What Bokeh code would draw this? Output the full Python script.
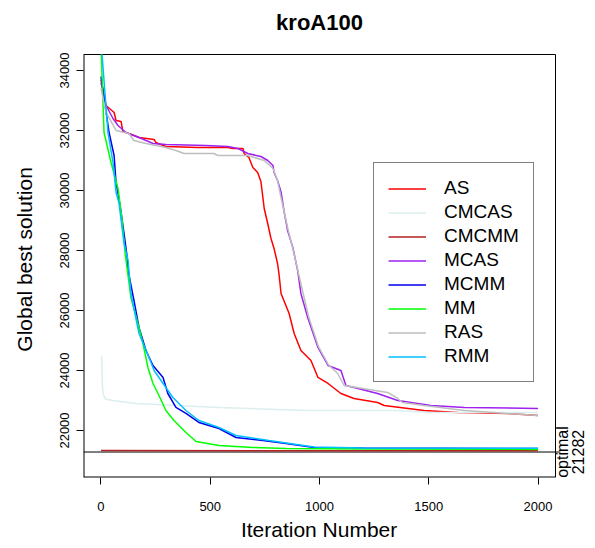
import math
from bokeh.plotting import figure
from bokeh.models import Range1d, FixedTicker, Legend, LegendItem
from bokeh.core.properties import value
from bokeh.embed import file_html
from bokeh.resources import INLINE

FONT = "Liberation Sans"

# ---- data ----
title_text = "kroA100"
x_label = "Iteration Number"
y_label = "Global best solution"
x_ticks = [0, 500, 1000, 1500, 2000]
y_ticks = [22000, 24000, 26000, 28000, 30000, 32000, 34000]
optimal = 21282

series_names = ["AS", "CMCAS", "CMCMM", "MCAS", "MCMM", "MM", "RAS", "RMM"]
series_colors = ["#FF0000", "#DCEEEE", "#B22222", "#A020F0", "#0000EE", "#00FF00", "#BEBEBE", "#00BFFF"]

as_x = [0, 14, 23, 60, 69, 92, 100, 128, 175, 243, 251, 297, 443, 580, 604, 650, 655, 677, 695, 717, 732,
        747, 763, 778, 792, 808, 815, 824, 861, 884, 915, 961, 993, 1039, 1098, 1158, 1266, 1296, 1478,
        1632, 1861, 2000]
as_y = [33700, 33167, 32833, 32600, 32333, 32300, 31967, 31900, 31767, 31700, 31600, 31467, 31433, 31433,
        31400, 31400, 31233, 31100, 30767, 30600, 30300, 29400, 28900, 28400, 28067, 27567, 27200, 26567,
        25900, 25233, 24667, 24333, 23767, 23567, 23233, 23067, 22933, 22833, 22667, 22600, 22567, 22500]

cmcas_x = [3, 6, 9, 20, 55, 160, 540, 946, 1358, 1497, 2000]
cmcas_y = [24500, 23600, 23233, 23050, 23000, 22900, 22767, 22667, 22667, 22600, 22600]

cmcmm_x = [0, 2000]
cmcmm_y = [21330, 21325]

mcas_x = [0, 23, 55, 78, 114, 174, 238, 297, 480, 580, 627, 672, 732, 763, 787, 792, 808, 824, 838, 854,
          878, 900, 915, 946, 993, 1039, 1098, 1121, 1176, 1266, 1358, 1510, 1663, 2000]
mcas_y = [33600, 32833, 32400, 32167, 31933, 31767, 31567, 31533, 31500, 31467, 31400, 31233, 31133,
          31000, 30833, 30600, 30333, 29950, 29300, 28667, 28100, 27333, 26567, 25767, 24767, 24167,
          24000, 23500, 23400, 23233, 23000, 22833, 22767, 22733]

mcmm_x = [0, 37, 60, 69, 82, 92, 105, 119, 124, 151, 174, 206, 238, 284, 306, 343, 389, 448, 540, 618,
          741, 847, 975, 1200, 2000]
mcmm_y = [33800, 31933, 31167, 30267, 29733, 29267, 28600, 27833, 27333, 26333, 25433, 24667, 24167,
          23767, 23233, 22767, 22567, 22267, 22067, 21767, 21667, 21567, 21433, 21420, 21400]

mm_x = [0, 14, 46, 78, 96, 105, 110, 137, 169, 192, 215, 238, 261, 297, 334, 389, 435, 540, 695, 847,
        1200, 2000]
mm_y = [34800, 31933, 30933, 30067, 29067, 28333, 27933, 26433, 25567, 24900, 24100, 23567, 23233,
        22667, 22333, 21933, 21633, 21500, 21433, 21400, 21380, 21370]

ras_x = [0, 23, 69, 128, 151, 206, 297, 343, 380, 517, 535, 672, 747, 787, 808, 824, 854, 880, 905, 950,
         995, 1040, 1083, 1113, 1312, 1358, 1380, 1478, 1663, 1861, 2000]
ras_y = [33400, 32600, 32000, 31900, 31667, 31567, 31433, 31333, 31233, 31233, 31167, 31167, 31000,
         30733, 30333, 29767, 28767, 28000, 27200, 25800, 24800, 24200, 23900, 23500, 23267, 23067,
         22933, 22833, 22667, 22567, 22500]

rmm_x = [0, 32, 55, 69, 82, 105, 124, 137, 174, 220, 243, 297, 329, 389, 448, 540, 618, 769, 975, 1200,
         2000]
rmm_y = [35000, 31933, 30933, 29933, 29600, 28267, 27667, 26567, 25233, 24433, 24000, 23433, 23100,
         22667, 22333, 22100, 21833, 21667, 21450, 21420, 21410]

series_x = [as_x, cmcas_x, cmcmm_x, mcas_x, mcmm_x, mm_x, ras_x, rmm_x]
series_y = [as_y, cmcas_y, cmcmm_y, mcas_y, mcmm_y, mm_y, ras_y, rmm_y]

# ---- layout: plot box (R style, 4% padding) and canvas ----
W, H = 595, 548
box_left_px, box_right_px, box_top_px, box_bottom_px = 83, 555, 54, 477
bx0, bx1 = -80, 2080          # x limits of the box
by0, by1 = 20433, 34533       # y limits of the box
sx = (box_right_px - box_left_px) / (bx1 - bx0)
sy = (box_bottom_px - box_top_px) / (by1 - by0)
x_range = Range1d(bx0, bx0 + (W - box_left_px) / sx)
y_range = Range1d(by0, by1 + box_top_px / sy)

# the frame reaches the canvas top/right; trailing no-break spaces re-centre
# the axis titles on the plot box instead of the whole frame
PAD = "\u00a0" * 7


def clip_top(xs, ys, ymax):
    ox, oy = [], []
    for i in range(len(xs)):
        if i > 0 and (ys[i - 1] > ymax) != (ys[i] > ymax):
            t = (ymax - ys[i - 1]) / (ys[i] - ys[i - 1])
            ox.append(xs[i - 1] + t * (xs[i] - xs[i - 1]))
            oy.append(ymax)
        if ys[i] <= ymax:
            ox.append(xs[i])
            oy.append(ys[i])
    return ox, oy


p = figure(width=W, height=H, output_backend="svg", toolbar_location=None,
           x_range=x_range, y_range=y_range,
           min_border_left=box_left_px, min_border_right=0, min_border_top=0,
           min_border_bottom=H - box_bottom_px)
p.background_fill_color = "white"
p.border_fill_color = "white"
p.outline_line_color = None
p.xgrid.visible = False
p.ygrid.visible = False

for ax in (p.xaxis[0], p.yaxis[0]):
    ax.axis_line_color = None
    ax.major_tick_out = 7
    ax.major_tick_in = 0
    ax.minor_tick_out = 0
    ax.minor_tick_in = 0
    ax.major_tick_line_color = "black"
    ax.major_label_text_font = FONT
    ax.major_label_text_font_size = "13px"
    ax.major_label_text_color = "black"
    ax.axis_label_text_font = FONT
    ax.axis_label_text_font_size = "21px"
    ax.axis_label_text_font_style = "normal"
    ax.axis_label_text_color = "black"

p.xaxis[0].ticker = FixedTicker(ticks=x_ticks)
p.yaxis[0].ticker = FixedTicker(ticks=y_ticks)
p.xaxis[0].axis_label = x_label + PAD
p.yaxis[0].axis_label = y_label + PAD
p.yaxis[0].major_label_orientation = "vertical"
p.xaxis[0].major_label_standoff = 17
p.yaxis[0].major_label_standoff = 7
p.xaxis[0].axis_label_standoff = 4
p.yaxis[0].axis_label_standoff = 22

# plot box (left/bottom edges lie on the frame edge and are half clipped)
p.segment(x0=[bx0, bx0], y0=[by0, by0], x1=[bx0, bx1], y1=[by1, by0], line_color="black", line_width=2)
p.segment(x0=[bx0, bx1], y0=[by1, by0], x1=[bx1, bx1], y1=[by1, by1], line_color="black", line_width=1)

# optimum line with its tick on the right side
p.segment(x0=[bx0], y0=[optimal], x1=[bx1 + 5 / sx], y1=[optimal], line_color="black", line_width=1)
p.text(x=[bx1 + 7 / sx], y=[optimal], text=["optimal"], angle=math.pi / 2,
       text_align="center", text_baseline="middle", text_font=value(FONT),
       text_font_size="16px", text_color="black")
p.text(x=[bx1 + 22 / sx], y=[optimal], text=[str(optimal)], angle=math.pi / 2,
       text_align="center", text_baseline="middle", text_font=value(FONT),
       text_font_size="16px", text_color="black")

# title
p.text(x=[(bx0 + bx1) / 2], y=[by1 + (box_top_px - 22) / sy], text=[title_text],
       text_align="center", text_baseline="middle", text_font=value(FONT),
       text_font_size="22px", text_font_style="bold", text_color="black")

renderers = []
for nm, col, xs, ys in zip(series_names, series_colors, series_x, series_y):
    cx, cy = clip_top(xs, ys, by1)
    r = p.line(cx, cy, line_color=col, line_width=1.5)
    renderers.append(r)

legend = Legend(items=[LegendItem(label=nm, renderers=[r]) for nm, r in zip(series_names, renderers)],
                location=(290, 95))
legend.label_text_font = FONT
legend.label_text_font_size = "19px"
legend.label_text_color = "black"
legend.label_height = 19
legend.glyph_height = 19
legend.glyph_width = 38
legend.spacing = 2
legend.padding = 14
legend.margin = 0
legend.label_standoff = 18
legend.border_line_color = "black"
legend.border_line_width = 1
legend.background_fill_color = "white"
legend.background_fill_alpha = 1.0
p.add_layout(legend, "center")

open("out.html", "w").write(file_html(p, INLINE))
